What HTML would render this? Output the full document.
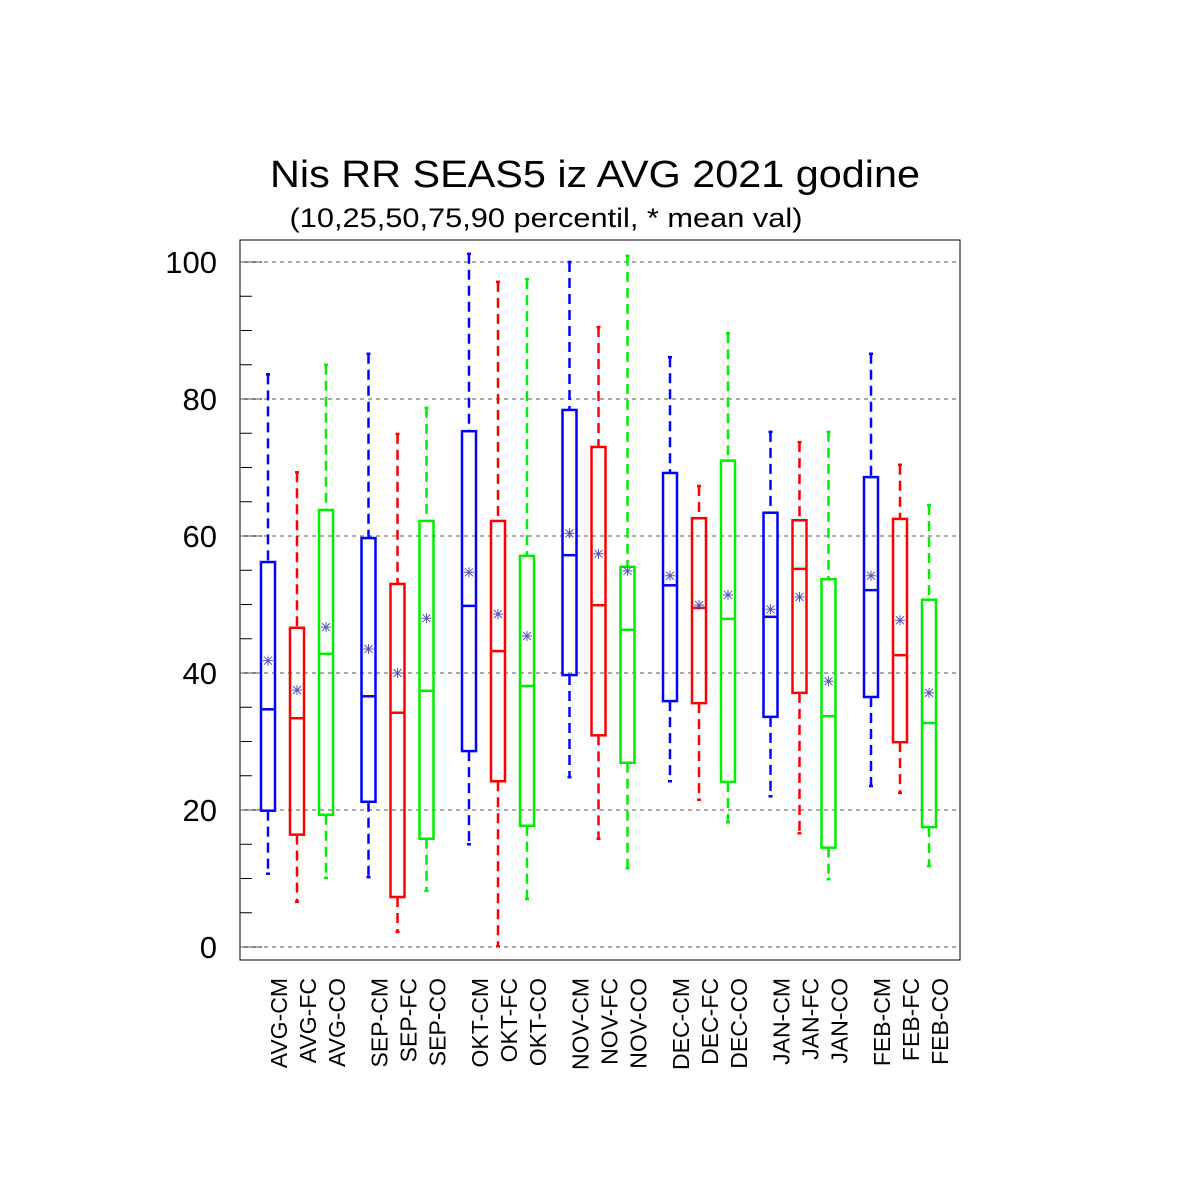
<!DOCTYPE html>
<html><head><meta charset="utf-8"><style>body{margin:0;background:#fff}svg{display:block}text{font-family:"Liberation Sans",sans-serif}</style></head>
<body>
<svg id="c" width="1200" height="1200" viewBox="0 0 1200 1200">
<text x="595" y="187" font-size="38" textLength="650" lengthAdjust="spacingAndGlyphs" text-anchor="middle">Nis RR SEAS5 iz AVG 2021 godine</text>
<text x="546" y="227" font-size="27" textLength="513" lengthAdjust="spacingAndGlyphs" text-anchor="middle">(10,25,50,75,90 percentil, * mean val)</text>
<rect x="240" y="240" width="720" height="720" fill="none" stroke="#000" stroke-width="1"/>
<g id="grid"></g><g id="marks"></g><g id="labels"></g>
</svg>
<script>
const categories=["AVG-CM","AVG-FC","AVG-CO","SEP-CM","SEP-FC","SEP-CO","OKT-CM","OKT-FC","OKT-CO","NOV-CM","NOV-FC","NOV-CO","DEC-CM","DEC-FC","DEC-CO","JAN-CM","JAN-FC","JAN-CO","FEB-CM","FEB-FC","FEB-CO"];
const p10=[10.7,6.6,10.1,10.2,2.2,8.2,15,0.1,7,24.8,15.8,11.5,24.2,21.5,18.2,22,16.6,9.9,23.5,22.5,11.8];
const p25=[19.9,16.4,19.3,21.2,7.3,15.8,28.6,24.2,17.7,39.7,30.9,26.9,35.9,35.6,24.1,33.6,37.1,14.5,36.5,29.9,17.5];
const p50=[34.7,33.4,42.8,36.6,34.2,37.4,49.8,43.2,38.1,57.2,49.9,46.3,52.8,49.5,47.9,48.2,55.2,33.7,52.1,42.6,32.7];
const p75=[56.2,46.6,63.8,59.7,53,62.2,75.3,62.2,57.1,78.4,73,55.5,69.2,62.6,71,63.4,62.3,53.7,68.6,62.5,50.7];
const p90=[83.6,69.3,85,86.6,74.9,78.7,101.2,97.1,97.5,100,90.5,100.9,86.1,67.3,89.6,75.2,73.7,75.2,86.6,70.4,64.5];
const means=[41.8,37.5,46.7,43.5,40,48,54.7,48.6,45.4,60.4,57.4,54.9,54.2,49.9,51.4,49.3,51.1,38.8,54.2,47.7,37.1];
const yTicks=[0,20,40,60,80,100];
const colors=["#0000ff","#ff0000","#00ee00"];
const NS="http://www.w3.org/2000/svg";
function y(v){return 947-v*6.85;}
function x(i){const g=Math.floor(i/3),k=i%3;return 268+g*100.5+k*29;}
function mk(t,a,p){const e=document.createElementNS(NS,t);for(const k in a)e.setAttribute(k,a[k]);p.appendChild(e);return e;}
const G=document.getElementById('grid'),M=document.getElementById('marks'),L=document.getElementById('labels');
for(let v=0;v<=100;v+=5){
  const t=mk('line',{x1:240,x2:v%20===0?262:252,y1:y(v),y2:y(v),stroke:'#000','stroke-width':1},G);
  
  
}
yTicks.forEach(v=>{
  const g=mk('line',{x1:240,x2:960,y1:y(v),y2:y(v),stroke:'#555','stroke-width':1,'stroke-dasharray':'4,4'},G);
  
  
  const t=mk('text',{x:217,y:y(v)+11,'font-size':31,'text-anchor':'end'},L);t.textContent=v;
  
  
});
categories.forEach((c,i)=>{
  const cx=x(i),col=colors[i%3];
  const g=mk('g',{stroke:col,'stroke-width':2.5,fill:'none'},M);
  
  
  mk('line',{x1:cx,x2:cx,y1:y(p90[i]),y2:y(p75[i]),'stroke-dasharray':'10,6'},g);
  mk('line',{x1:cx,x2:cx,y1:y(p25[i]),y2:y(p10[i]),'stroke-dasharray':'10,6'},g);
  mk('line',{x1:cx-2,x2:cx+2,y1:y(p90[i]),y2:y(p90[i])},g);
  mk('line',{x1:cx-2,x2:cx+2,y1:y(p10[i]),y2:y(p10[i])},g);
  mk('rect',{x:cx-7,y:y(p75[i]),width:14,height:y(p25[i])-y(p75[i])},g);
  mk('line',{x1:cx-7,x2:cx+7,y1:y(p50[i]),y2:y(p50[i])},g);
  const my=y(means[i]);
  const m=mk('path',{d:`M${cx-5},${my}H${cx+5}M${cx-4},${my-4}L${cx+4},${my+4}M${cx-4},${my+4}L${cx+4},${my-4}M${cx},${my-5}V${my+5}`,stroke:'#5555bb','stroke-width':1,fill:'none'},M);
  
  
  const t=mk('text',{x:0,y:0,'font-size':23,'text-anchor':'end',transform:`translate(${cx+19},978) rotate(-90)`},L);t.textContent=c;
  
  
});
</script>
</body></html>
